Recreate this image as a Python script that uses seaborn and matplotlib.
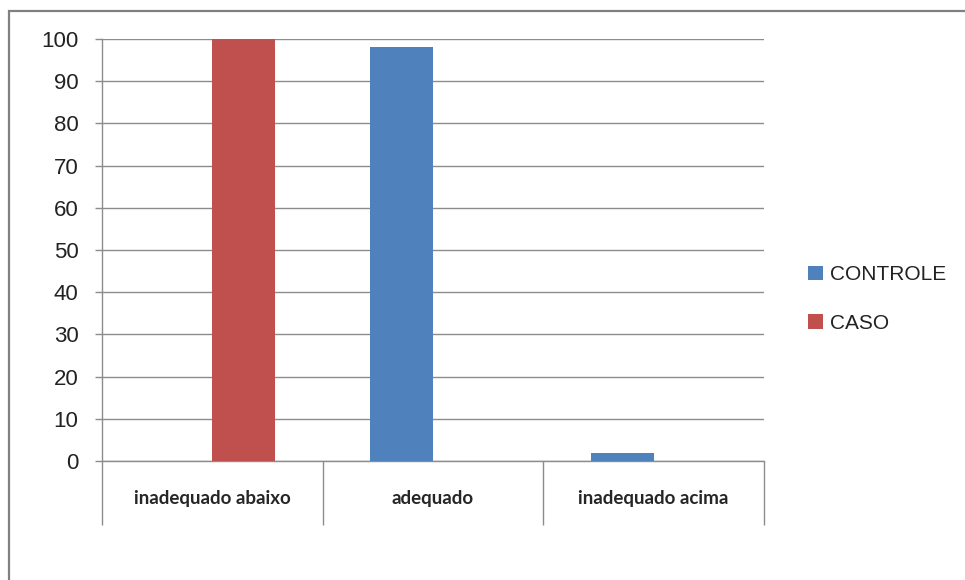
import pandas as pd
import seaborn as sns
import matplotlib.pyplot as plt
from matplotlib.patches import Rectangle

# chart data
categories = ["inadequado abaixo", "adequado", "inadequado acima"]
controle = [0, 98, 2]
caso = [100, 0, 0]
series_names = ["CONTROLE", "CASO"]
y_ticks = [0, 10, 20, 30, 40, 50, 60, 70, 80, 90, 100]

df = pd.DataFrame({
    "categoria": categories * 2,
    "valor": controle + caso,
    "grupo": [series_names[0]] * 3 + [series_names[1]] * 3,
})

sns.set_style("white")
plt.rcParams["font.family"] = ["Liberation Sans", "DejaVu Sans"]

fig = plt.figure(figsize=(9.65, 5.8), dpi=100)
ax = fig.add_axes([102 / 965, 1 - 461 / 580, (764 - 102) / 965, (461 - 39) / 580])

palette = {"CONTROLE": "#4F81BD", "CASO": "#C0504D"}
sns.barplot(data=df, x="categoria", y="valor", hue="grupo", palette=palette,
            width=0.572, gap=0, saturation=1, ax=ax, zorder=3, linewidth=0)

grid_col = "#8C8C8C"
ax.set_ylim(0, 100)
ax.set_xlim(-0.5, 2.5)
ax.set_yticks(y_ticks)
ax.yaxis.grid(True, color=grid_col, linewidth=1.0, zorder=0)
ax.set_axisbelow(True)
for s in ["top", "right"]:
    ax.spines[s].set_visible(False)
for s in ["left", "bottom"]:
    ax.spines[s].set_color(grid_col)
    ax.spines[s].set_linewidth(1.0)
ax.tick_params(axis="y", direction="out", length=5, width=1.0, color=grid_col,
               labelsize=16, pad=12, left=True, labelcolor="#222222")

# category separators below the axis
ax.set_xticks([-0.5, 0.5, 1.5, 2.5], minor=True)
ax.tick_params(axis="x", which="minor", direction="out", length=46, width=1.0,
               color=grid_col, bottom=True)
ax.tick_params(axis="x", which="major", length=0, pad=21)
ax.set_xticks(range(len(categories)))
ax.set_xticklabels(categories, fontsize=13.5, fontweight="bold", family="Lato")
ax.set_xlabel("")
ax.set_ylabel("")

ax.legend_.remove()
handles, labels = ax.get_legend_handles_labels()
fig.legend(handles, labels, loc="center left", bbox_to_anchor=(808 / 965, 1 - 299 / 580),
           frameon=False, fontsize=15, handlelength=0.7, handleheight=0.7,
           handletextpad=0.35, labelspacing=1.4, borderaxespad=0, borderpad=0,
           labelcolor="#222222")

# outer chart border
fig.patches.append(Rectangle((8.5 / 965, -0.1), 1.2, 1 - 11 / 580 + 0.1,
                             transform=fig.transFigure, fill=False,
                             edgecolor="#808080", linewidth=1.6))

fig.savefig("out.png", dpi=100)
